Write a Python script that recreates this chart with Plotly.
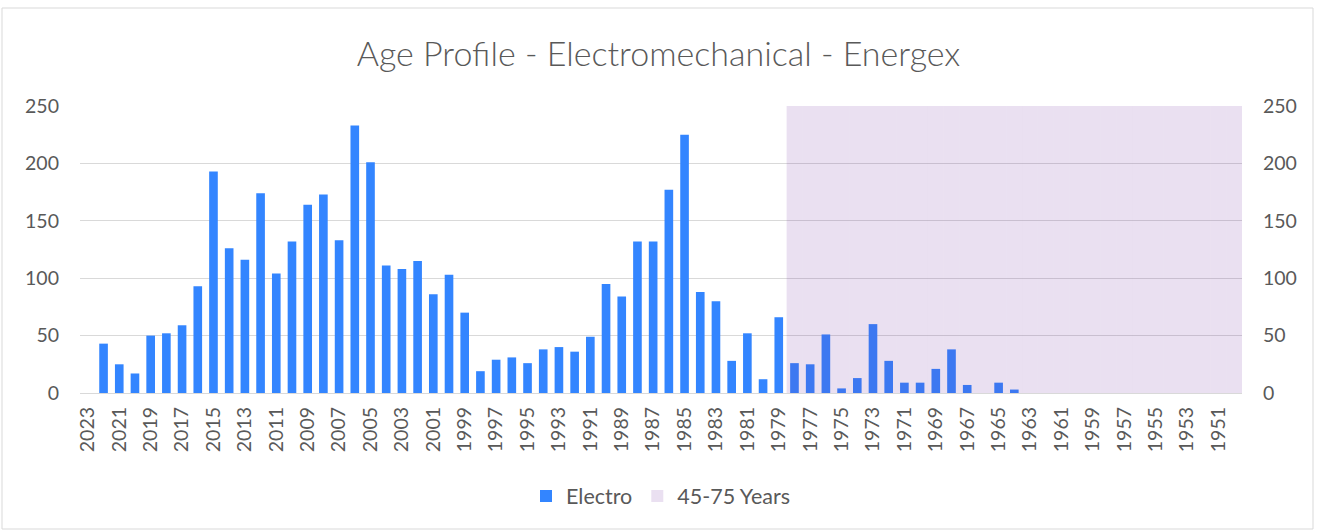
import plotly.graph_objects as go

years = [str(y) for y in range(2023, 1949, -1)]
electro = [0, 43, 25, 17, 50, 52, 59, 93, 193, 126, 116, 174, 104, 132, 164, 173, 133, 233, 201, 111,
           108, 115, 86, 103, 70, 19, 29, 31, 26, 38, 40, 36, 49, 95, 84, 132, 132, 177, 225, 88,
           80, 28, 52, 12, 66, 26, 25, 51, 4, 13, 60, 28, 9, 9, 21, 38, 7, 0, 9, 3,
           0, 0, 0, 0, 0, 0, 0, 0, 0, 0, 0, 0, 0, 0]
shade = [0, 0, 0, 0, 0, 0, 0, 0, 0, 0, 0, 0, 0, 0, 0, 0, 0, 0, 0, 0,
         0, 0, 0, 0, 0, 0, 0, 0, 0, 0, 0, 0, 0, 0, 0, 0, 0, 0, 0, 0,
         0, 0, 0, 0, 0, 250, 250, 250, 250, 250, 250, 250, 250, 250, 250, 250, 250, 250, 250, 250,
         250, 250, 250, 250, 250, 250, 250, 250, 250, 250, 250, 250, 250, 250]
yticks = [0, 50, 100, 150, 200, 250]

W, H = 1317, 532
L, R, T, B = 80, 75, 106, 139
pw, ph = W - L - R, H - T - B

def px(x):
    return (x - L) / pw

def py(y):
    return (H - B - y) / ph

FONT = "Lato"
GREY = "#595959"

fig = go.Figure()
fig.add_trace(go.Bar(x=years, y=electro, name="Electro", marker=dict(color="#3385FF", line=dict(width=0)),
                     yaxis="y"))
fig.add_trace(go.Bar(x=years, y=shade, name="45-75 Years", width=1.0,
                     marker=dict(color="rgba(112,48,160,0.15)", line=dict(width=0)), yaxis="y2"))

fig.update_layout(
    width=W, height=H,
    margin=dict(l=L, r=R, t=T, b=B, autoexpand=False),
    paper_bgcolor="white", plot_bgcolor="white",
    barmode="overlay", bargap=0.45,
    title=dict(text="Age Profile - Electromechanical - Energex", x=0.5, xanchor="center",
               y=1 - 54 / H, yanchor="middle", font=dict(family=FONT, size=34, color=GREY, weight=300)),
    font=dict(family=FONT, color=GREY, size=19),
    xaxis=dict(type="category", categoryorder="array", categoryarray=years, tickangle=-90,
               tickmode="linear", tick0=0, dtick=2, showgrid=False, showline=True, linecolor="#D9D9D9",
               linewidth=1.3, ticks="", automargin=False, tickfont=dict(size=19.5, color=GREY),
               ticklabelstandoff=5),
    yaxis=dict(range=[0, 250], tickvals=yticks, showgrid=True, gridcolor="#D9D9D9", gridwidth=1.3,
               zeroline=False, showline=False, ticks="", automargin=False,
               tickfont=dict(size=19.5, color=GREY), ticklabelstandoff=20),
    yaxis2=dict(range=[0, 250], tickvals=yticks, overlaying="y", side="right", showgrid=False,
                zeroline=False, showline=False, ticks="", automargin=False,
                tickfont=dict(size=19.5, color=GREY), ticklabelstandoff=20),
    legend=dict(orientation="h", x=0.5, xanchor="center", y=py(496), yanchor="middle",
                font=dict(size=21.5, color=GREY), traceorder="normal", itemwidth=30),
    showlegend=True,
    shapes=[dict(type="rect", xref="paper", yref="paper", x0=px(2), x1=px(1313), y0=py(529), y1=py(8),
                 line=dict(color="#D9D9D9", width=1), fillcolor="rgba(0,0,0,0)", layer="below")],
)

fig.write_html("out.html", config={"displayModeBar": False},
               post_script="document.body.style.margin='0';document.body.style.overflow='hidden';")
